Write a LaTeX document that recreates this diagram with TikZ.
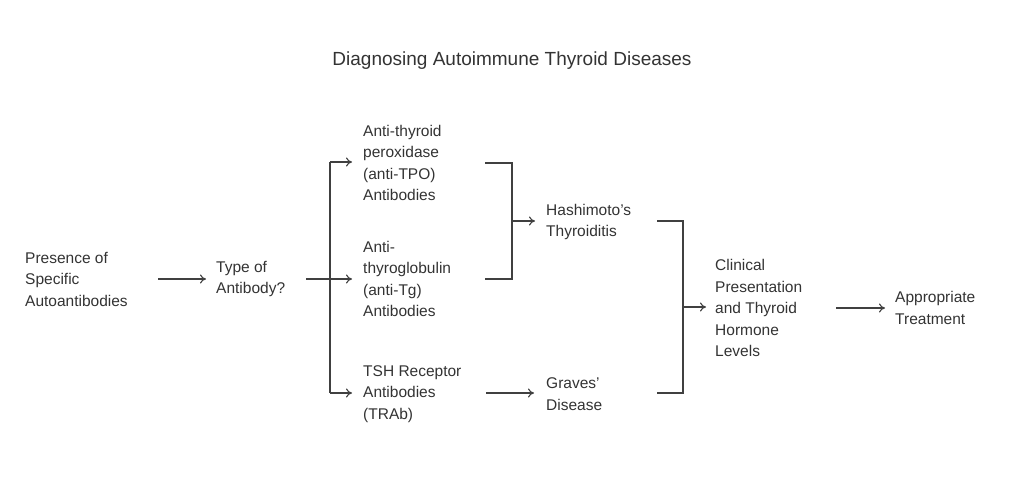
\documentclass[tikz,border=0pt]{standalone}
\usepackage{fontspec}
\setmainfont{Liberation Sans}
\usetikzlibrary{arrows.meta}
\begin{document}
\begin{tikzpicture}[x=1pt,y=-1pt,
  lbl/.style={anchor=west,align=left,inner sep=0pt,font=\fontsize{15.5}{21.5}\selectfont,text=black!80},
  conn/.style={draw=black!75,line width=1.1pt,-{To[length=6pt,width=9pt]}},
  ln/.style={draw=black!75,line width=1.1pt}]
\useasboundingbox (0,0) rectangle (1024,482);
\node[font=\fontsize{19}{23}\selectfont,text=black!80] (title) at (512,61) {Diagnosing Autoimmune Thyroid Diseases};
\node[lbl] (pres) at (25,279) {Presence of\\Specific\\Autoantibodies};
\node[lbl] (type) at (216,279) {Type of\\Antibody?};
\node[lbl] (tpo) at (363,163) {Anti-thyroid\\peroxidase\\(anti-TPO)\\Antibodies};
\node[lbl] (tg) at (363,279) {Anti-\\thyroglobulin\\(anti-Tg)\\Antibodies};
\node[lbl] (tsh) at (363,394) {TSH Receptor\\Antibodies\\(TRAb)};
\node[lbl] (hash) at (546,222) {Hashimoto's\\Thyroiditis};
\node[lbl] (grav) at (546,394) {Graves'\\Disease};
\node[lbl] (clin) at (715,308) {Clinical\\Presentation\\and Thyroid\\Hormone\\Levels};
\node[lbl] (treat) at (895,308) {Appropriate\\Treatment};
\coordinate (j1) at (330,279);
\coordinate (j2) at (512,221);
\coordinate (j3) at (683,307);
\draw[conn] (158,279) -- (type.west -| 206,0);
\draw[ln] (306,279) -- (j1);
\draw[ln] (330,162) -- (330,393);
\draw[conn] (330,162) -- (352,162);
\draw[conn] (j1) -- (352,279);
\draw[conn] (330,393) -- (352,393);
\draw[ln] (485,163) -- (512,163) -- (512,279) -- (485,279);
\draw[conn] (j2) -- (535,221);
\draw[conn] (486,393) -- (534,393);
\draw[ln] (657,221) -- (683,221) -- (683,393) -- (657,393);
\draw[conn] (j3) -- (706,307);
\draw[conn] (836,308) -- (885,308);
\end{tikzpicture}
\end{document}
